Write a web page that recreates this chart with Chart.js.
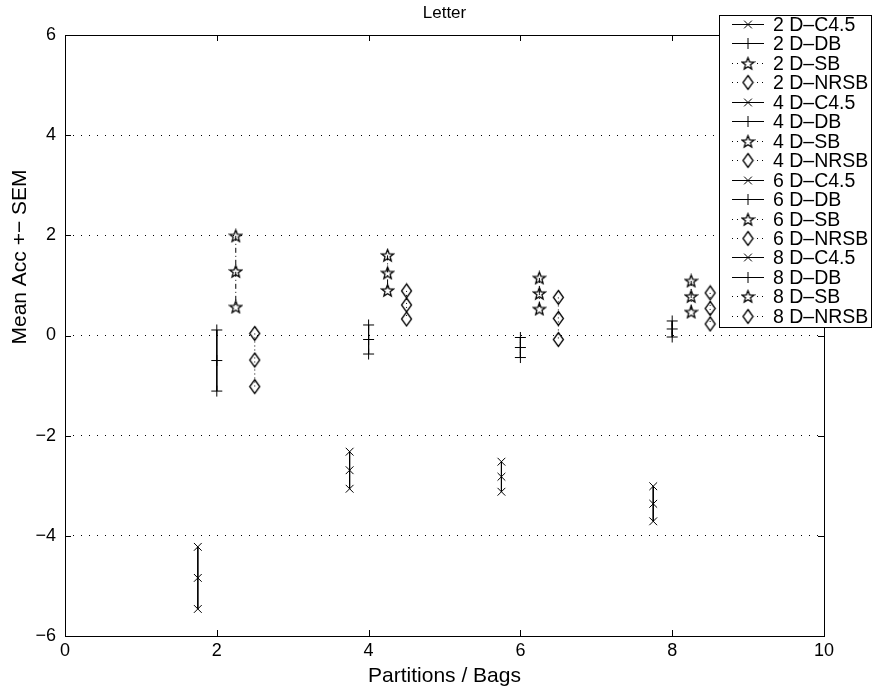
<!DOCTYPE html>
<html>
<head>
<meta charset="utf-8">
<title>Letter</title>
<script src="https://cdn.jsdelivr.net/npm/chart.js@4/dist/chart.umd.min.js"></script>
<style>
  html, body { margin: 0; padding: 0; background: #fff; }
  canvas { display: block; }
</style>
</head>
<body>
<canvas id="letterChart" width="875" height="693"></canvas>
<script>
// partition / bag counts on the x axis
const partitions = [2, 4, 6, 8];
const methods = ["C4.5", "DB", "SB", "NRSB"];

// mean accuracy difference and its standard error, one entry per partition count
const c45Mean = [-4.84, -2.69, -2.82, -3.36];
const c45Sem = [0.62, 0.37, 0.30, 0.35];
const dbMean = [-0.50, -0.08, -0.24, 0.13];
const dbSem = [0.61, 0.29, 0.20, 0.16];
const sbMean = [1.28, 1.25, 0.84, 0.78];
const sbSem = [0.71, 0.35, 0.31, 0.31];
const nrsbMean = [-0.49, 0.61, 0.34, 0.54];
const nrsbSem = [0.53, 0.28, 0.42, 0.31];

const yTicks = [-6, -4, -2, 0, 2, 4, 6];
const xTicks = [0, 2, 4, 6, 8, 10];

const FONT = "'Liberation Sans', Arial, Helvetica, sans-serif";

// open marker shapes drawn once onto small canvases
function makeStar() {
    const c = document.createElement("canvas");
    c.width = 15; c.height = 15;
    const g = c.getContext("2d");
    g.beginPath();
    for (let i = 0; i < 10; i++) {
        const r = i % 2 === 0 ? 6.3 : 2.7;
        const a = -Math.PI / 2 + i * Math.PI / 5;
        const px = 7.5 + r * Math.cos(a), py = 8 + r * Math.sin(a);
        if (i === 0) g.moveTo(px, py); else g.lineTo(px, py);
    }
    g.closePath();
    g.strokeStyle = "#000";
    g.lineWidth = 1.3;
    g.stroke();
    return c;
}

function makeDiamond() {
    const c = document.createElement("canvas");
    c.width = 13; c.height = 17;
    const g = c.getContext("2d");
    g.beginPath();
    g.moveTo(6.5, 1.5);
    g.lineTo(11.5, 8.5);
    g.lineTo(6.5, 15.5);
    g.lineTo(1.5, 8.5);
    g.closePath();
    g.strokeStyle = "#000";
    g.lineWidth = 1.3;
    g.stroke();
    return c;
}

const starImg = makeStar();
const diamondImg = makeDiamond();

const methodStyle = {
    "C4.5": { offset: -0.25, pointStyle: "crossRot", radius: 5.5, dash: [] },
    "DB": { offset: 0, pointStyle: "cross", radius: 5.5, dash: [] },
    "SB": { offset: 0.25, pointStyle: starImg, radius: 6, dash: [5, 3, 1, 3] },
    "NRSB": { offset: 0.5, pointStyle: diamondImg, radius: 6, dash: [1, 3] },
};

const methodValues = {
    "C4.5": [c45Mean, c45Sem],
    "DB": [dbMean, dbSem],
    "SB": [sbMean, sbSem],
    "NRSB": [nrsbMean, nrsbSem],
};

// one dataset per (partition, method): upper bound, mean, lower bound joined by a line
const datasets = [];
partitions.forEach((p, i) => {
    methods.forEach((m) => {
        const st = methodStyle[m];
        const [mean, sem] = methodValues[m];
        const x = p + st.offset;
        datasets.push({
            label: p + " D\u2013" + m,
            data: [
                { x: x, y: mean[i] + sem[i] },
                { x: x, y: mean[i] },
                { x: x, y: mean[i] - sem[i] },
            ],
            showLine: true,
            borderColor: "#000",
            borderWidth: 1,
            borderDash: st.dash,
            pointStyle: st.pointStyle,
            pointRadius: st.radius,
            pointBorderColor: "#000",
            pointBackgroundColor: "rgba(0,0,0,0)",
            pointBorderWidth: 1,
        });
    });
});

// axes box, inward ticks, title, y label and the boxed legend
const framePlugin = {
    id: "frame",
    afterDraw(chart) {
        const { ctx, chartArea: a, scales } = chart;
        ctx.save();
        ctx.strokeStyle = "#000";
        ctx.lineWidth = 1;
        ctx.setLineDash([]);
        ctx.strokeRect(Math.round(a.left) + 0.5, Math.round(a.top) + 0.5,
            Math.round(a.right - a.left), Math.round(a.bottom - a.top));

        const tl = 6;
        ctx.beginPath();
        xTicks.forEach((v) => {
            const px = Math.round(scales.x.getPixelForValue(v)) + 0.5;
            ctx.moveTo(px, a.bottom); ctx.lineTo(px, a.bottom - tl);
            ctx.moveTo(px, a.top); ctx.lineTo(px, a.top + tl);
        });
        yTicks.forEach((v) => {
            const py = Math.round(scales.y.getPixelForValue(v)) + 0.5;
            ctx.moveTo(a.left, py); ctx.lineTo(a.left + tl, py);
            ctx.moveTo(a.right, py); ctx.lineTo(a.right - tl, py);
        });
        ctx.stroke();

        // title
        ctx.fillStyle = "#000";
        ctx.font = "17px " + FONT;
        ctx.textAlign = "center";
        ctx.textBaseline = "middle";
        ctx.fillText("Letter", (a.left + a.right) / 2, 13);

        // y axis label
        ctx.save();
        ctx.translate(20, 257);
        ctx.rotate(-Math.PI / 2);
        ctx.font = "21px " + FONT;
        ctx.fillText("Mean Acc +\u2212 SEM", 0, 0);
        ctx.restore();

        // legend
        const lx = 719, ly = 15, lw = 152, lh = 312;
        ctx.fillStyle = "#fff";
        ctx.fillRect(lx, ly, lw, lh);
        ctx.strokeRect(lx + 0.5, ly + 0.5, lw, lh);
        ctx.font = "19.5px " + FONT;
        ctx.textAlign = "left";
        chart.data.datasets.forEach((ds, i) => {
            const cy = Math.round(ly + 9 + i * 19.45) + 0.5;
            ctx.strokeStyle = "#000";
            ctx.lineWidth = 1;
            ctx.setLineDash(ds.borderDash.length ? [1, 4] : []);
            ctx.beginPath();
            ctx.moveTo(732, cy); ctx.lineTo(764, cy);
            ctx.stroke();
            ctx.setLineDash([]);
            ctx.fillStyle = "#fff";
            if (ds.borderDash.length) ctx.fillRect(741, cy - 7, 14, 14);
            Chart.helpers.drawPoint(ctx, {
                pointStyle: ds.pointStyle,
                radius: ds.pointRadius,
                borderWidth: 1,
                rotation: 0,
            }, 748, cy);
            ctx.fillStyle = "#000";
            ctx.fillText(ds.label, 773, cy + 1);
        });
        ctx.restore();
    },
};

const ctx = document.getElementById("letterChart").getContext("2d");
ctx.strokeStyle = "#000";

new Chart(ctx, {
    type: "scatter",
    data: { datasets: datasets },
    plugins: [framePlugin],
    options: {
        responsive: false,
        animation: false,
        events: [],
        layout: { padding: { left: 0, right: 51, top: 35, bottom: 0 } },
        plugins: {
            legend: { display: false },
            tooltip: { enabled: false },
        },
        scales: {
            x: {
                type: "linear",
                min: 0,
                max: 10,
                afterFit: (scale) => { scale.height = 57; },
                afterBuildTicks: (scale) => { scale.ticks = xTicks.map((v) => ({ value: v })); },
                ticks: {
                    color: "#000",
                    font: { family: FONT, size: 18 },
                    padding: 4,
                    maxRotation: 0,
                },
                grid: { display: false, drawTicks: false },
                border: { display: false },
                title: {
                    display: true,
                    text: "Partitions / Bags",
                    color: "#000",
                    font: { family: FONT, size: 21 },
                    padding: { top: 0, bottom: 4 },
                },
            },
            y: {
                type: "linear",
                min: -6,
                max: 6,
                afterFit: (scale) => { scale.width = 65; },
                afterBuildTicks: (scale) => { scale.ticks = yTicks.map((v) => ({ value: v })); },
                ticks: {
                    color: "#000",
                    font: { family: FONT, size: 18 },
                    padding: 9,
                    callback: (v) => String(v).replace("-", "\u2212"),
                },
                grid: {
                    drawTicks: false,
                    color: (c) => (c.tick && Math.abs(c.tick.value) === 6) ? "rgba(0,0,0,0)" : "#000",
                    lineWidth: 1,
                },
                border: { display: false, dash: [1, 7] },
            },
        },
    },
});
</script>
</body>
</html>
